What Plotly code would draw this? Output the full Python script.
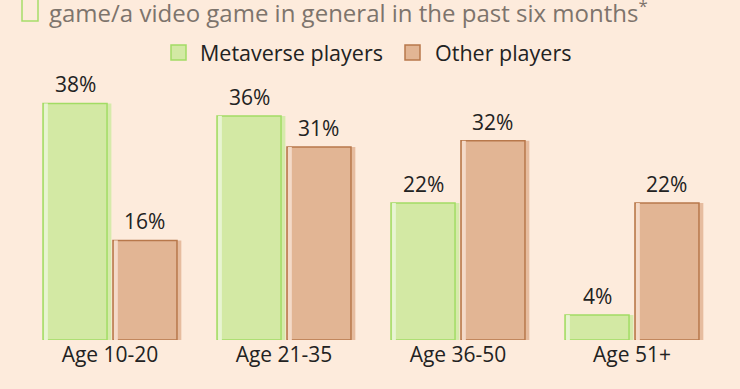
import plotly.graph_objects as go

categories = ["Age 10-20", "Age 21-35", "Age 36-50", "Age 51+"]
metaverse = [38, 36, 22, 4]
other = [16, 31, 32, 22]
series_names = ["Metaverse players", "Other players"]
subtitle = "game/a video game in general in the past six months<sup>*</sup>"

BG = "#FDEBDC"
FONT = "Open Sans"
green_fill, green_line, green_shadow, green_hi = "#D3E9A4", "#A2DC64", "#D6EAAB", "#E8F4D2"
orange_fill, orange_line, orange_shadow, orange_hi = "#E2B594", "#B8784B", "#E6BC9F", "#F4DAC8"

W_PX, H_PX = 740, 389
ML, MR, MT, MB = 23, 21, 91, 49
PW, PH = W_PX - ML - MR, H_PX - MT - MB


def px(x):
    return (x - ML) / PW


def py(y):
    return (H_PX - MB - y) / PH


xs = list(range(len(categories)))
W = 0.368
offs = [-0.385, 0.017]

fig = go.Figure()
specs = [(metaverse, green_fill, green_line, green_shadow, green_hi),
         (other, orange_fill, orange_line, orange_shadow, orange_hi)]
for k, (vals, fill, line, shadow, hi) in enumerate(specs):
    fig.add_trace(go.Bar(x=xs, y=vals, width=W, offset=offs[k] + 0.025,
                         marker=dict(color=shadow, line=dict(width=0)),
                         showlegend=False, hoverinfo="skip"))
    fig.add_trace(go.Bar(x=xs, y=vals, width=W, offset=offs[k], name=series_names[k],
                         marker=dict(color=fill, line=dict(color=line, width=1.5)),
                         showlegend=False))
    fig.add_trace(go.Bar(x=xs, y=vals, width=0.022, offset=offs[k] + 0.006,
                         marker=dict(color=hi, line=dict(width=0)),
                         showlegend=False, hoverinfo="skip"))
    for i, v in enumerate(vals):
        fig.add_annotation(x=i + offs[k] + W / 2, y=v, text=f"{v}%", showarrow=False,
                           yanchor="bottom", yshift=3,
                           font=dict(family=FONT, size=21, color="#222222"))

# custom legend
leg = [(171, 198, green_fill, green_line), (405, 433, orange_fill, orange_line)]
for (sx, tx, fill, line), name in zip(leg, series_names):
    fig.add_shape(type="rect", xref="paper", yref="paper", x0=px(sx), x1=px(sx + 15),
                  y0=py(60), y1=py(45), fillcolor=fill, line=dict(color=line, width=1.5))
    fig.add_annotation(xref="paper", yref="paper", x=px(tx), y=py(52), xanchor="left",
                       yanchor="middle", text=name, showarrow=False,
                       font=dict(family=FONT, size=21.5, color="#222222"))

# subtitle line (partially visible at top)
fig.add_annotation(xref="paper", yref="paper", x=px(47), y=py(11), xanchor="left", yanchor="middle",
                   text=subtitle, showarrow=False, font=dict(family=FONT, size=24, color="#7D746C"))
fig.add_shape(type="rect", xref="paper", yref="paper", x0=px(22), x1=px(38), y0=py(21), y1=py(-5),
              line=dict(color="#A6DE6A", width=1.5), fillcolor="rgba(0,0,0,0)")

fig.update_layout(
    barmode="overlay",
    paper_bgcolor=BG, plot_bgcolor=BG,
    width=W_PX, height=H_PX,
    margin=dict(l=ML, r=MR, t=MT, b=MB),
    font=dict(family=FONT, size=21, color="#222222"),
    showlegend=False,
    xaxis=dict(range=[-0.5, 3.5], tickvals=xs, ticktext=categories, showgrid=False,
               zeroline=False, showline=False, ticks="", tickfont=dict(size=21)),
    yaxis=dict(range=[0, 40], visible=False),
)

fig.write_html("out.html", config={"displayModeBar": False},
               post_script="document.body.style.margin='0';document.body.style.padding='0';")
